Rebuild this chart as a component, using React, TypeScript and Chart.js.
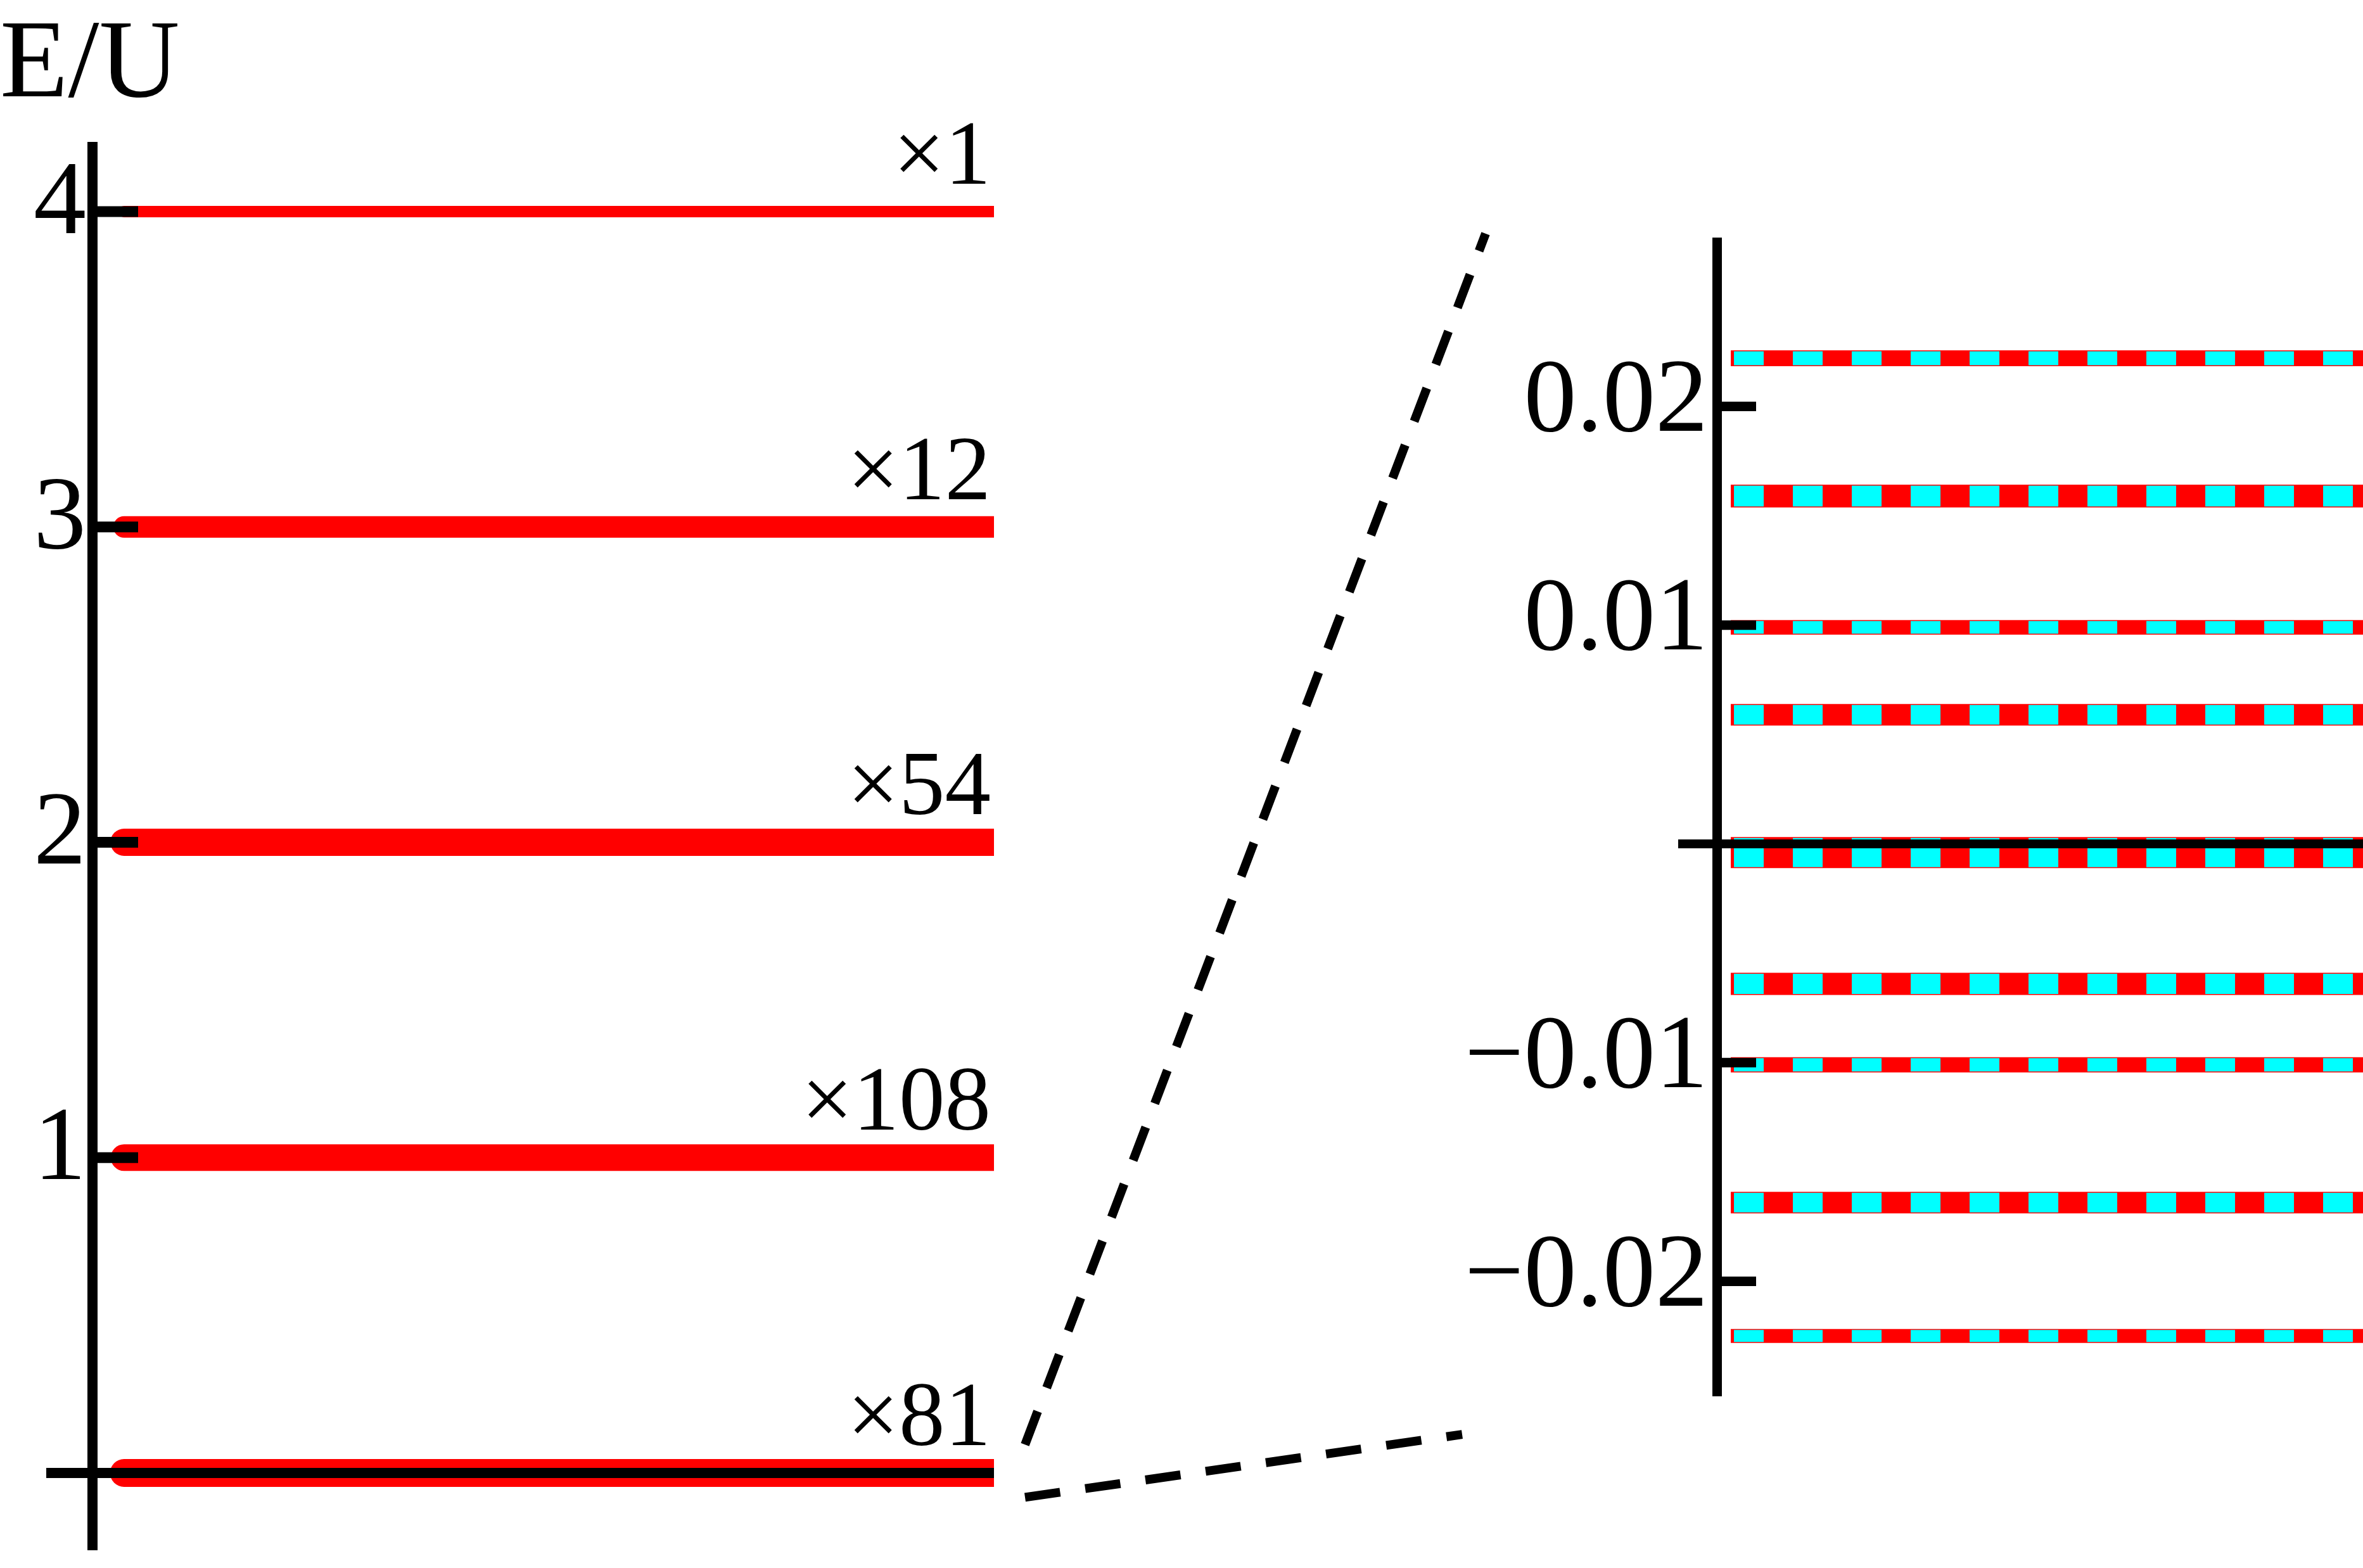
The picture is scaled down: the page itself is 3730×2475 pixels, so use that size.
import { useEffect, useRef } from 'react';
import { Chart, registerables } from 'chart.js';

Chart.register(...registerables);

// ---------------- data ----------------
// left panel: full spectrum (E/U) with degeneracies
const leftLevels = [4, 3, 2, 1, 0];
const leftDegeneracies = [1, 12, 54, 108, 81];
const leftTickValues = [0, 1, 2, 3, 4];
const leftTickLabels = ['', '1', '2', '3', '4'];

// right panel: zoom of the lowest (×81) manifold
const rightLevels = [0.0222, 0.0159, 0.0099, 0.0059, -0.0004, -0.0064, -0.0101, -0.0164, -0.0225];
const rightTickValues = [-0.02, -0.01, 0, 0.01, 0.02];
const rightTickLabels = ['\u22120.02', '\u22120.01', '', '0.01', '0.02'];

// zoom window: where the dashed connectors leave the left axis and reach the right axis (E/U)
const zoomSourceLevels = [0.09, -0.077];
const zoomTargetLevels = [0.0279, -0.027];

// ---------------- styles / layout ----------------
const leftWidths = [18, 34, 43, 42, 44];
const rightWidths = [25, 36, 23, 34, 49, 35, 24, 34, 22];
const RED = 'rgb(255,0,0)';
const CYAN = 'rgb(0,255,255)';
const FONT = 'Liberation Serif';
const W = 3730;
const H = 2475;
const LEFT_W = 1600;
const RIGHT_X = 1600;
const RIGHT_W = W - RIGHT_X;

const axisExtras = {
  id: 'axisExtras',
  afterDatasetsDraw(chart: any, _args: any, opts: any) {
    const { ctx, chartArea } = chart;
    const y = chart.scales.y;
    ctx.save();
    ctx.strokeStyle = '#000';
    ctx.lineCap = 'butt';
    ctx.lineWidth = opts.tickWidth;
    for (const t of y.ticks) {
      if (t.value === 0) continue;
      const py = y.getPixelForValue(t.value);
      ctx.beginPath();
      ctx.moveTo(chartArea.left, py);
      ctx.lineTo(chartArea.left + opts.tickLength, py);
      ctx.stroke();
    }
    const p0 = y.getPixelForValue(0);
    ctx.lineWidth = opts.zeroWidth;
    ctx.beginPath();
    ctx.moveTo(chartArea.left - opts.zeroOverhang, p0);
    ctx.lineTo(chartArea.right, p0);
    ctx.stroke();
    ctx.restore();
  },
};

const degeneracyLabels = {
  id: 'degeneracyLabels',
  afterDatasetsDraw(chart: any, _args: any, opts: any) {
    const { ctx, chartArea } = chart;
    const y = chart.scales.y;
    ctx.save();
    ctx.fillStyle = '#000';
    ctx.font = `${opts.size}px "${FONT}"`;
    ctx.textAlign = 'right';
    ctx.textBaseline = 'alphabetic';
    leftLevels.forEach((lv, i) => {
      ctx.fillText(`\u00d7${leftDegeneracies[i]}`, chartArea.right - opts.inset, y.getPixelForValue(lv) - opts.lift);
    });
    ctx.restore();
  },
};

function makeConnector(getLeft: () => Chart | null) {
  return {
    id: 'zoomConnector',
    afterDraw(chart: any, _args: any, opts: any) {
      const left: any = getLeft();
      if (!left) return;
      const ctx = chart.ctx;
      const ly = left.scales.y;
      const ry = chart.scales.y;
      const x0 = left.chartArea.right + opts.startGap - RIGHT_X;
      ctx.save();
      ctx.strokeStyle = '#000';
      ctx.lineWidth = opts.width;
      ctx.lineCap = 'butt';
      ctx.setLineDash(opts.dash);
      zoomSourceLevels.forEach((sv, i) => {
        ctx.beginPath();
        ctx.moveTo(x0, ly.getPixelForValue(sv));
        ctx.lineTo(chart.chartArea.left - opts.endInset[i], ry.getPixelForValue(zoomTargetLevels[i]));
        ctx.stroke();
      });
      ctx.restore();
    },
  };
}

export default function App() {
  const leftRef = useRef<HTMLCanvasElement>(null);
  const rightRef = useRef<HTMLCanvasElement>(null);

  useEffect(() => {
    if (!leftRef.current || !rightRef.current) return;

    const leftDatasets: any[] = leftLevels.map((lv, i) => ({
      label: `\u00d7${leftDegeneracies[i]}`,
      data: [
        { x: 0.035, y: lv },
        { x: 1.1, y: lv },
      ],
      borderColor: RED,
      backgroundColor: RED,
      borderWidth: leftWidths[i],
      borderCapStyle: 'round',
      pointRadius: 0,
      fill: false,
      tension: 0,
      clip: { left: false, top: false, right: 0, bottom: false },
    }));

    const leftChart = new Chart(leftRef.current, {
      type: 'line',
      data: { datasets: leftDatasets },
      options: {
        animation: false,
        responsive: false,
        maintainAspectRatio: false,
        events: [],
        layout: { padding: { left: 0, right: 31, top: 0, bottom: 29 } },
        plugins: {
          legend: { display: false },
          tooltip: { enabled: false },
          title: {
            display: true,
            text: 'E/U',
            align: 'start',
            color: '#000',
            font: { family: FONT, size: 176, weight: 'normal', lineHeight: 1 },
            padding: { top: 18, bottom: 38 },
          },
          axisExtras: { tickWidth: 17, tickLength: 72, zeroWidth: 16, zeroOverhang: 73 },
          degeneracyLabels: { size: 145, inset: 5, lift: 44 },
        } as any,
        scales: {
          x: { type: 'linear', min: 0, max: 1, display: false },
          y: {
            type: 'linear',
            position: 'left',
            min: -0.2431,
            max: 4.2049,
            bounds: 'data',
            afterFit: (s: any) => {
              s.width = 146;
            },
            afterBuildTicks: (s: any) => {
              s.ticks = leftTickValues.map((v) => ({ value: v }));
            },
            ticks: {
              callback: (_v: any, i: number) => leftTickLabels[i],
              color: '#000',
              padding: 10,
              labelOffset: -10,
              font: { family: FONT, size: 166, lineHeight: 0.2 },
            },
            grid: { display: false, drawTicks: false },
            border: { display: true, color: '#000', width: 16 },
          },
        } as any,
      },
      plugins: [axisExtras, degeneracyLabels],
    } as any);

    const rightDatasets: any[] = [];
    rightLevels.forEach((lv, i) => {
      rightDatasets.push({
        label: `level ${i + 1}`,
        data: [
          { x: 0.0216, y: lv },
          { x: 1.1, y: lv },
        ],
        borderColor: RED,
        borderWidth: rightWidths[i],
        borderCapStyle: 'butt',
        pointRadius: 0,
        fill: false,
        tension: 0,
        order: 1,
        clip: { left: false, top: false, right: 0, bottom: false },
      });
      rightDatasets.push({
        label: `level ${i + 1} (dashed)`,
        data: [
          { x: 0.0216, y: lv },
          { x: 1.1, y: lv },
        ],
        borderColor: CYAN,
        borderWidth: rightWidths[i] - 3,
        borderDash: [47, 46],
        borderDashOffset: 88,
        borderCapStyle: 'butt',
        pointRadius: 0,
        fill: false,
        tension: 0,
        order: 0,
        clip: { left: false, top: false, right: 0, bottom: false },
      });
    });

    const rightChart = new Chart(rightRef.current, {
      type: 'line',
      data: { datasets: rightDatasets },
      options: {
        animation: false,
        responsive: false,
        maintainAspectRatio: false,
        events: [],
        layout: { padding: { left: 0, right: 0, top: 382, bottom: 272 } },
        plugins: {
          legend: { display: false },
          tooltip: { enabled: false },
          title: { display: false },
          axisExtras: { tickWidth: 15, tickLength: 62, zeroWidth: 14, zeroOverhang: 61 },
          zoomConnector: { startGap: 49, endInset: [365, 402], width: 14, dash: [56, 40] },
        } as any,
        scales: {
          x: { type: 'linear', min: 0, max: 1, display: false },
          y: {
            type: 'linear',
            position: 'left',
            min: -0.025228,
            max: 0.027516,
            bounds: 'data',
            afterFit: (s: any) => {
              s.width = 1110;
            },
            afterBuildTicks: (s: any) => {
              s.ticks = rightTickValues.map((v) => ({ value: v }));
            },
            ticks: {
              callback: (_v: any, i: number) => rightTickLabels[i],
              color: '#000',
              padding: 14,
              labelOffset: -5,
              font: { family: FONT, size: 166, lineHeight: 0.2 },
            },
            grid: { display: false, drawTicks: false },
            border: { display: true, color: '#000', width: 15 },
          },
        } as any,
      },
      plugins: [axisExtras, makeConnector(() => leftChart)],
    } as any);

    return () => {
      leftChart.destroy();
      rightChart.destroy();
    };
  }, []);

  return (
    <div
      style={{
        position: 'absolute',
        left: 0,
        top: 0,
        width: W,
        height: H,
        background: '#fff',
        overflow: 'hidden',
      }}
    >
      <canvas
        ref={leftRef}
        width={LEFT_W}
        height={H}
        style={{ position: 'absolute', left: 0, top: 0, width: LEFT_W, height: H }}
      />
      <canvas
        ref={rightRef}
        width={RIGHT_W}
        height={H}
        style={{ position: 'absolute', left: RIGHT_X, top: 0, width: RIGHT_W, height: H }}
      />
    </div>
  );
}
